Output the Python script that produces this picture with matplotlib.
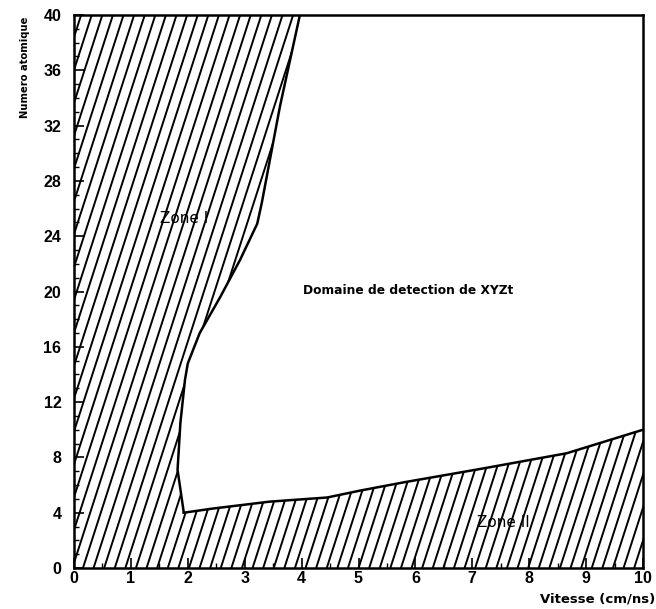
import numpy as np
import matplotlib
matplotlib.use("Agg")
import matplotlib.pyplot as plt
from matplotlib.patches import Polygon
from matplotlib.collections import LineCollection

# ---- data ----
# Zone I limit (from top of the plot down to the corner)
zone1_v = [3.97, 3.62, 3.30, 3.22, 2.92, 2.57, 2.21, 2.00, 1.95, 1.87, 1.82, 1.93]
zone1_z = [40.0, 33.4, 26.4, 24.9, 22.3, 19.6, 17.0, 14.8, 13.6, 10.5, 7.1, 4.0]
# Zone II limit (from the corner to the right edge)
zone2_v = [1.93, 2.44, 3.44, 4.45, 5.03, 5.80, 7.19, 8.66, 10.0]
zone2_z = [4.0, 4.3, 4.8, 5.1, 5.6, 6.2, 7.2, 8.3, 10.0]

x_ticks = [0, 1, 2, 3, 4, 5, 6, 7, 8, 9, 10]
y_ticks = [0, 4, 8, 12, 16, 20, 24, 28, 32, 36, 40]
x_range = (0, 10)
y_range = (0, 40)

xlabel = "Vitesse (cm/ns)"
ylabel = "Numero atomique"
domain_label = "Domaine de detection de XYZt"
zone1_label = "Zone I"
zone2_label = "Zone II"

# ---- figure ----
fig = plt.figure(figsize=(6.56, 6.09), dpi=100)
ax = fig.add_axes([74/656, 41/609, 569/656, 553/609])
ax.set_xlim(*x_range)
ax.set_ylim(*y_range)

# hatched (undetected) region : union of zone I and zone II
verts = ([(x_range[0], y_range[0]), (x_range[0], y_range[1])]
         + list(zip(zone1_v, zone1_z))
         + list(zip(zone2_v[1:], zone2_z[1:]))
         + [(x_range[1], y_range[0])])
region = Polygon(verts, closed=True, facecolor="white", edgecolor="none", zorder=1)
ax.add_patch(region)

# steep hatch lines, clipped to the region
W, H = 569.0, 553.0
slope = 3.1 * W / H
step = 10.6 / W
starts = np.arange(-0.45, 1.05, step)
segs = [[(c, 0.0), (c + 1.0 / slope, 1.0)] for c in starts]
lc = LineCollection(segs, colors="black", linewidths=1.4, transform=ax.transAxes, zorder=2)
lc.set_clip_path(region)
ax.add_collection(lc)

# limit curves
ax.plot(zone1_v, zone1_z, color="black", lw=1.8, zorder=3)
ax.plot(zone2_v, zone2_z, color="black", lw=1.8, zorder=3)

# texts
ax.text(4.02, 20.1, domain_label, fontsize=8.8, fontweight="bold",
        family="DejaVu Sans", ha="left", va="center", zorder=4)
ax.text(1.51, 25.3, zone1_label, fontsize=11, family="DejaVu Sans",
        ha="left", va="center", zorder=4)
ax.text(7.08, 3.3, zone2_label, fontsize=11, family="DejaVu Sans",
        ha="left", va="center", zorder=4)

# spines
for s in ax.spines.values():
    s.set_linewidth(1.8)
    s.set_zorder(5)

# ticks
ax.set_xticks(x_ticks)
ax.set_yticks(y_ticks)
ax.set_xticklabels([str(t) for t in x_ticks])
ax.set_yticklabels([str(t) for t in y_ticks])
ax.set_yticks(np.arange(y_range[0], y_range[1] + 1, 1), minor=True)
ax.set_xticks(np.arange(x_range[0], x_range[1] + 0.01, 0.5), minor=True)
ax.tick_params(axis="both", which="major", direction="in", length=7, width=1.2)
ax.tick_params(axis="both", which="minor", direction="in", length=3.5, width=1.0)
ax.tick_params(axis="y", which="major", pad=9)
ax.tick_params(axis="x", which="major", pad=2)
for lab in ax.get_xticklabels() + ax.get_yticklabels():
    lab.set_fontfamily("Liberation Sans")
    lab.set_fontweight("bold")
    lab.set_fontsize(11.5)

ax.set_xlabel(xlabel, fontsize=9.5, fontweight="bold", family="DejaVu Sans", loc="right")
ax.xaxis.set_label_coords((655 - 74) / W, -(592 - 568) / H)
ax.set_ylabel(ylabel, fontsize=7.2, fontweight="bold", family="DejaVu Sans", loc="top")
ax.yaxis.set_label_coords(-(74 - 30) / W, 1 - 2 / H)

fig.savefig("out.png", dpi=100)
